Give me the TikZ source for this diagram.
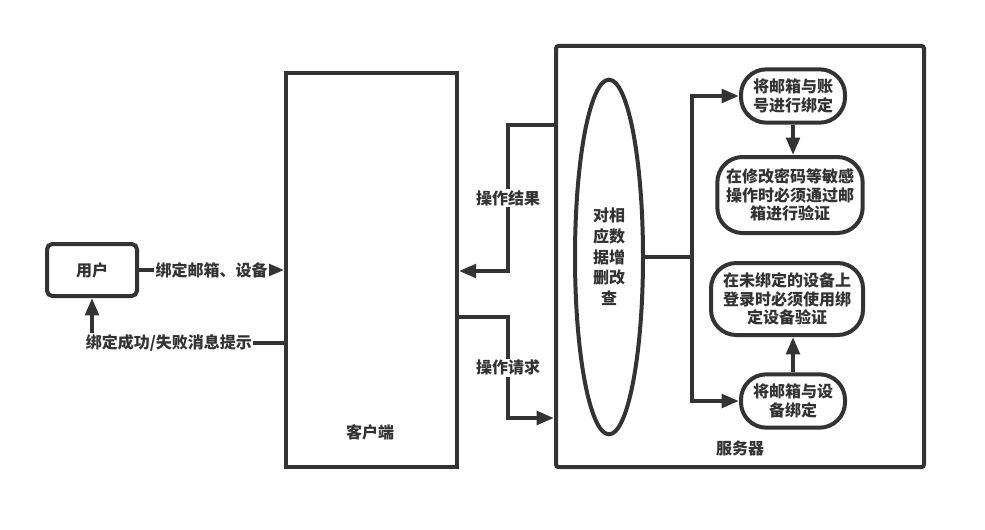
\documentclass[tikz,border=0pt]{standalone}
\usepackage{fontspec}
\setmainfont{Noto Sans CJK SC}
\usetikzlibrary{arrows.meta,shapes.geometric}

\begin{document}
\begin{tikzpicture}[x=0.75pt,y=-0.75pt,>={Triangle[length=13pt,width=10pt]},
	line width=3pt,draw=black!80,every node/.style={font=\fontsize{12}{14}\selectfont\bfseries,text=black!80},
	box/.style={draw,line width=3pt,minimum width=#1},
	pill/.style={draw,line width=3pt,rounded corners=19pt,align=center,inner sep=2pt},
	lbl/.style={fill=white,inner sep=1pt}]

\useasboundingbox (0,0) rectangle (985,529);

\node[box=67.5pt,minimum height=39pt,rounded corners=4pt]   (user)   at (92,270)   {用户};
 \node[box=128pt,minimum height=295.5pt]   (client) at (371.5,270) {};
	\node[box=276pt,minimum height=316pt,rounded corners=2pt]   (server) at (740,256.5) {};
		\node   (clientlbl) at (370,432)   {客户端};
		\node   (serverlbl) at (740,448)   {服务器};
	\node[ellipse,draw,line width=3pt,minimum width=51pt,minimum height=266pt,inner sep=0pt,
		align=center,font=\fontsize{12}{15.5}\selectfont\bfseries]   (crud) at (609,257)   {对相\\应数\\据增\\删改\\查};
		\node[pill,minimum width=78pt,minimum height=40pt]   (mailacc)  at (793,96)   {将邮箱与账\\号进行绑定};
		\node[pill,minimum width=109pt,minimum height=57pt]   (verify)   at (790,195)  {在修改密码等敏感\\操作时必须通过邮\\箱进行验证};
		\node[pill,minimum width=114pt,minimum height=54pt]   (devlogin) at (787,299)  {在未绑定的设备上\\登录时必须使用绑\\定设备验证};
		\node[pill,minimum width=78pt,minimum height=40pt]   (maildev)  at (793,401)  {将邮箱与设\\备绑定};

	\coordinate (fb)  at (92,343);
	\coordinate (res1) at (508,125);
	\coordinate (res2) at (508,271);
	\coordinate (req1) at (508,317);
	\coordinate (req2) at (508,418);
	\coordinate (fork) at (692,257);

	\draw[->] (user.east) -- node[lbl]{绑定邮箱、设备} (user.east -| client.west);
	\draw[->] (client.west |- fb) -- node[lbl,pos=0.6]{绑定成功/失败消息提示} (fb) -- (user.south);

	\draw[->] (server.west |- res1) -- (res1) -- node[lbl]{操作结果} (res2) -- (client.east |- res2);
	\draw[->] (client.east |- req1) -- (req1) -- node[lbl]{操作请求} (req2) -- (server.west |- req2);

	\draw (crud.east) -- (fork);
	\draw[->] (fork) |- (mailacc.west);
	\draw[->] (fork) |- (maildev.west);
	\draw[->] (mailacc.south) -- (mailacc.south |- verify.north);
	\draw[->] (maildev.north) -- (maildev.north |- devlogin.south);

\end{tikzpicture}
\end{document}
